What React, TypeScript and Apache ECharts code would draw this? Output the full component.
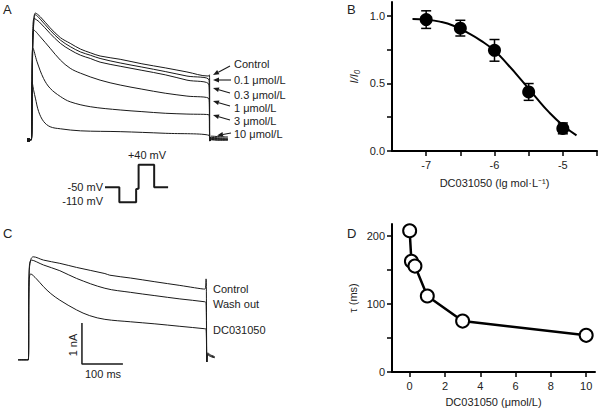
import React, { useEffect, useRef } from 'react';
import * as echarts from 'echarts';

// ---------- Panel A: current traces (time in ms, current in nA) ----------
const traceAControl = [[-10,0],[0,0],[3,2.0],[6,2.9],[10,3.1],[22,3.01],[46,2.74],[71,2.5],[95,2.36],[120,2.22],[144,2.13],[168,2.05],[217,1.97],[270,1.86],[327,1.76],[380,1.66],[432,1.56],[435,1.59],[436,-0.03],[440,0.09],[455,0.08],[480,0.07]];
const traceA01 = [[-10,0],[0,0],[3,2.0],[6,2.85],[10,3.06],[22,2.95],[46,2.68],[71,2.44],[95,2.28],[120,2.15],[144,2.07],[168,1.99],[217,1.88],[270,1.78],[327,1.67],[380,1.56],[434,1.46],[436,-0.02],[440,0.06],[455,0.05],[480,0.04]];
const traceA03 = [[-10,0],[0,0],[3,2.3],[7,2.97],[20,2.88],[46,2.6],[71,2.36],[95,2.2],[120,2.07],[144,1.99],[168,1.9],[217,1.8],[270,1.7],[327,1.59],[380,1.46],[434,1.34],[436,-0.02],[440,0.04],[455,0.03],[480,0.02]];
const traceA1 = [[-10,0],[0,0],[3,2.2],[7,2.68],[22,2.52],[46,2.24],[71,1.95],[95,1.75],[120,1.63],[168,1.46],[217,1.34],[270,1.24],[327,1.14],[380,1.07],[434,1.0],[436,-0.02],[440,0.03],[455,0.02],[480,0.01]];
const traceA3 = [[-10,0],[0,0],[2,1.9],[4,2.24],[14,1.91],[30,1.5],[46,1.26],[71,1.06],[95,0.93],[144,0.81],[217,0.73],[270,0.69],[327,0.65],[380,0.63],[434,0.61],[436,-0.02],[440,0.01],[455,0.0],[480,0.0]];
const traceA10 = [[-10,0],[0,0],[2,1.42],[6,1.2],[10,1.02],[18,0.69],[30,0.45],[46,0.32],[71,0.27],[120,0.22],[217,0.2],[327,0.16],[434,0.11],[436,-0.03],[440,0.0],[455,-0.01],[480,-0.01]];
const traceALabels = ['Control', '0.1 μmol/L', '0.3 μmol/L', '1 μmol/L', '3 μmol/L', '10 μmol/L'];

// ---------- Voltage protocol (time in ms, potential in mV) ----------
const protoTime = [0, 35, 35, 76, 76, 82, 82, 120, 120, 154];
const protoVolt = [-50, -50, -110, -110, -58, -55, 40, 40, -50, -50];

// ---------- Panel B: concentration–response ----------
const doseLog = [-7, -6.5, -6, -5.5, -5];
const ratio = [0.97, 0.907, 0.743, 0.436, 0.167];
const sem = [0.065, 0.058, 0.08, 0.062, 0.04];
const fitX = [-7.2, -7.0, -6.8, -6.6, -6.4, -6.2, -6.0, -5.8, -5.6, -5.4, -5.2, -5.0, -4.8];
const fitY = [0.975, 0.97, 0.955, 0.925, 0.875, 0.815, 0.74, 0.635, 0.52, 0.40, 0.285, 0.19, 0.115];
const bXTicks = [-7, -6.5, -6, -5.5, -5, -4.5];
const bXLabels = [-7, -6, -5];
const bYTicks = [0, 0.25, 0.5, 0.75, 1.0];
const bYLabels = [0, 0.5, 1.0];

// ---------- Panel C: traces (time in ms, current in nA) ----------
const traceCControl = [[-25,0],[0,0],[2,2.1],[6,2.45],[12,2.52],[37,2.44],[77,2.36],[118,2.26],[187,2.11],[199,2.07],[250,2.0],[309,1.91],[370,1.82],[431,1.73],[434,1.98],[436,-0.05],[438,0.17],[445,0.12],[455,0.08]];
const traceCWash = [[-25,0],[0,0],[2,2.1],[8,2.44],[37,2.32],[77,2.18],[118,1.99],[187,1.75],[250,1.65],[309,1.57],[370,1.49],[431,1.42],[434,1.4],[436,-0.05],[438,0.14],[445,0.1],[455,0.06]];
const traceCDC = [[-25,0],[0,0],[2,1.9],[6,2.1],[20,1.98],[37,1.79],[55,1.62],[77,1.46],[118,1.22],[150,1.08],[187,0.99],[250,0.93],[309,0.88],[370,0.82],[431,0.76],[434,0.75],[436,-0.05],[438,0.12],[445,0.08],[455,0.05]];
const traceCLabels = ['Control', 'Wash out', 'DC031050'];
const scaleBar = [[131, 0.9], [131, -0.1], [231, -0.1]]; // 1 nA, 100 ms

// ---------- Panel D: time constant ----------
const conc = [0, 0.1, 0.3, 1, 3, 10];
const tau = [208, 163, 156, 112, 75, 54];
const dXTicks = [0, 2, 4, 6, 8, 10];
const dYTicks = [0, 50, 100, 150, 200];
const dYLabels = [0, 100, 200];

const FONT = '"Liberation Sans", Arial, sans-serif';
const INK = '#1a1a1a';
const TXT = '#222';

function arrow(x1: number, y1: number, x2: number, y2: number) {
  const dx = x2 - x1, dy = y2 - y1;
  const L = Math.sqrt(dx * dx + dy * dy);
  const ux = dx / L, uy = dy / L;
  const px = -uy, py = ux;
  const hl = 6, hw = 2.4;
  const bx = x2 - ux * hl, by = y2 - uy * hl;
  return [
    { type: 'line', shape: { x1, y1, x2: bx, y2: by }, style: { stroke: INK, lineWidth: 1.1 } },
    { type: 'polygon', shape: { points: [[x2, y2], [bx + px * hw, by + py * hw], [bx - px * hw, by - py * hw]] }, style: { fill: INK } },
  ];
}

function txt(x: number, y: number, text: string, opts: any = {}) {
  return {
    type: 'text', x, y, rotation: opts.rotation || 0,
    style: {
      text, fill: opts.fill || TXT, font: `${opts.style || 'normal'} ${opts.size || 11}px ${FONT}`,
      align: opts.align || 'left', verticalAlign: 'middle',
    },
  };
}

const traceLine = (data: number[][], xi: number, w = 1) => ({
  type: 'line', xAxisIndex: xi, yAxisIndex: xi, data, showSymbol: false, symbol: 'none',
  smooth: 0.35, clip: false, lineStyle: { color: INK, width: w }, silent: true,
});

export default function App() {
  const ref = useRef<HTMLDivElement>(null);
  useEffect(() => {
    document.body.style.margin = '0';
    const chart = echarts.init(ref.current!, null, { renderer: 'svg' });
    const hidden = (gi: number, min: number, max: number) => ({ gridIndex: gi, type: 'value', min, max, show: false });
    const axisCommon = {
      axisLine: { show: true, onZero: false, lineStyle: { color: '#000', width: 2 } },
      axisTick: { show: true, length: 5, lineStyle: { color: '#000', width: 1.5 } },
      splitLine: { show: false },
    };
    const arrowsA = [[230, 66, 213, 75], [231, 80, 213, 80], [230, 93, 213, 88], [230, 106, 213, 101], [230, 120, 213, 115], [231, 133, 217, 135.5]];
    const labelYA = [64, 80, 95, 108, 121, 134];
    const labelYC = [289, 304, 330];

    const graphics: any[] = [
      txt(3, 9, 'A', { size: 13 }),
      txt(347, 9, 'B', { size: 13 }),
      txt(3, 233, 'C', { size: 13 }),
      txt(347, 233, 'D', { size: 13 }),
      { type: 'rect', shape: { x: 27, y: 138, width: 3, height: 4 }, style: { fill: INK } },
      ...arrowsA.flatMap(a => arrow(a[0], a[1], a[2], a[3])),
      ...traceALabels.map((t, i) => txt(234, labelYA[i], t)),
      txt(147, 155, '+40 mV', { align: 'center' }),
      txt(103, 187, '-50 mV', { align: 'right' }),
      txt(103, 201, '-110 mV', { align: 'right' }),
      ...traceCLabels.map((t, i) => txt(213, labelYC[i], t)),
      txt(73, 345, '1 nA', { align: 'center', rotation: Math.PI / 2 }),
      txt(103, 374, '100 ms', { align: 'center' }),
    ];

    chart.setOption({
      animation: false,
      textStyle: { fontFamily: FONT },
      grid: [
        { left: 19, top: 9, width: 213, height: 139 },
        { left: 105, top: 162.3, width: 63.1, height: 42.5 },
        { left: 392, top: 2, width: 205, height: 149 },
        { left: 16, top: 229, width: 213, height: 139 },
        { left: 392, top: 224, width: 203, height: 148 },
      ],
      xAxis: [
        hidden(0, -30, 490),
        hidden(1, 0, 154),
        {
          gridIndex: 2, type: 'value', min: -7.5, max: -4.5, ...axisCommon,
          axisTick: { ...axisCommon.axisTick, customValues: bXTicks },
          axisLabel: { customValues: bXLabels, color: TXT, fontSize: 11, margin: 8, formatter: (v: number) => String(v) },
          name: 'DC031050 (lg mol·L⁻¹)', nameLocation: 'middle', nameGap: 26,
          nameTextStyle: { color: TXT, fontSize: 11 },
        },
        hidden(3, -30, 490),
        {
          gridIndex: 4, type: 'value', min: -1, max: 10.5, ...axisCommon,
          axisTick: { ...axisCommon.axisTick, customValues: dXTicks },
          axisLabel: { customValues: dXTicks, color: TXT, fontSize: 11, margin: 8 },
          name: 'DC031050 (μmol/L)', nameLocation: 'middle', nameGap: 24,
          nameTextStyle: { color: TXT, fontSize: 11 },
        },
      ],
      yAxis: [
        hidden(0, -0.2, 3.2),
        hidden(1, -120, 50),
        {
          gridIndex: 2, type: 'value', min: 0, max: 1.1, ...axisCommon,
          axisTick: { ...axisCommon.axisTick, customValues: bYTicks },
          axisLabel: { customValues: bYLabels, color: TXT, fontSize: 11, margin: 7, formatter: (v: number) => v.toFixed(1) },
          name: 'I/I₀', nameLocation: 'middle', nameGap: 33,
          nameTextStyle: { color: TXT, fontSize: 11, fontStyle: 'italic' },
        },
        hidden(3, -0.2, 3.2),
        {
          gridIndex: 4, type: 'value', min: 0, max: 218, ...axisCommon,
          axisTick: { ...axisCommon.axisTick, customValues: dYTicks },
          axisLabel: { customValues: dYLabels, color: TXT, fontSize: 11, margin: 7 },
          name: 'τ (ms)', nameLocation: 'middle', nameGap: 34,
          nameTextStyle: { color: TXT, fontSize: 11 },
        },
      ],
      series: [
        traceLine(traceAControl, 0),
        traceLine(traceA01, 0),
        traceLine(traceA03, 0),
        traceLine(traceA1, 0),
        traceLine(traceA3, 0),
        traceLine(traceA10, 0),
        {
          type: 'line', xAxisIndex: 1, yAxisIndex: 1, data: protoTime.map((t, i) => [t, protoVolt[i]]),
          showSymbol: false, symbol: 'none', clip: false, lineStyle: { color: INK, width: 2 },
        },
        {
          type: 'line', xAxisIndex: 2, yAxisIndex: 2, data: fitX.map((x, i) => [x, fitY[i]]),
          showSymbol: false, symbol: 'none', smooth: true, clip: false, lineStyle: { color: '#000', width: 2 },
        },
        {
          type: 'custom', xAxisIndex: 2, yAxisIndex: 2, clip: false,
          data: doseLog.map((x, i) => [x, ratio[i], sem[i]]),
          encode: { x: 0, y: 1 },
          renderItem: (_p: any, api: any) => {
            const x = api.value(0), y = api.value(1), e = api.value(2);
            const t = api.coord([x, y + e]);
            const b = api.coord([x, y - e]);
            const hw = 5;
            const st = { stroke: '#000', lineWidth: 1.5 };
            return {
              type: 'group', children: [
                { type: 'line', shape: { x1: t[0], y1: t[1], x2: b[0], y2: b[1] }, style: st },
                { type: 'line', shape: { x1: t[0] - hw, y1: t[1], x2: t[0] + hw, y2: t[1] }, style: st },
                { type: 'line', shape: { x1: b[0] - hw, y1: b[1], x2: b[0] + hw, y2: b[1] }, style: st },
              ],
            };
          },
        },
        {
          type: 'scatter', xAxisIndex: 2, yAxisIndex: 2, data: doseLog.map((x, i) => [x, ratio[i]]),
          symbol: 'circle', symbolSize: 13, itemStyle: { color: '#000', opacity: 1 }, z: 5,
        },
        traceLine(traceCControl, 3),
        traceLine(traceCWash, 3),
        traceLine(traceCDC, 3),
        {
          type: 'line', xAxisIndex: 3, yAxisIndex: 3, data: scaleBar, showSymbol: false, symbol: 'none',
          clip: false, lineStyle: { color: INK, width: 1.5 },
        },
        {
          type: 'line', xAxisIndex: 4, yAxisIndex: 4, data: conc.map((c, i) => [c, tau[i]]),
          symbol: 'circle', symbolSize: 13, showSymbol: true, clip: false,
          lineStyle: { color: '#000', width: 2.5 },
          itemStyle: { color: '#fff', borderColor: '#000', borderWidth: 2, opacity: 1 },
        },
      ],
      graphic: graphics,
    });
    return () => chart.dispose();
  }, []);
  return <div ref={ref} style={{ width: 600, height: 409 }} />;
}
